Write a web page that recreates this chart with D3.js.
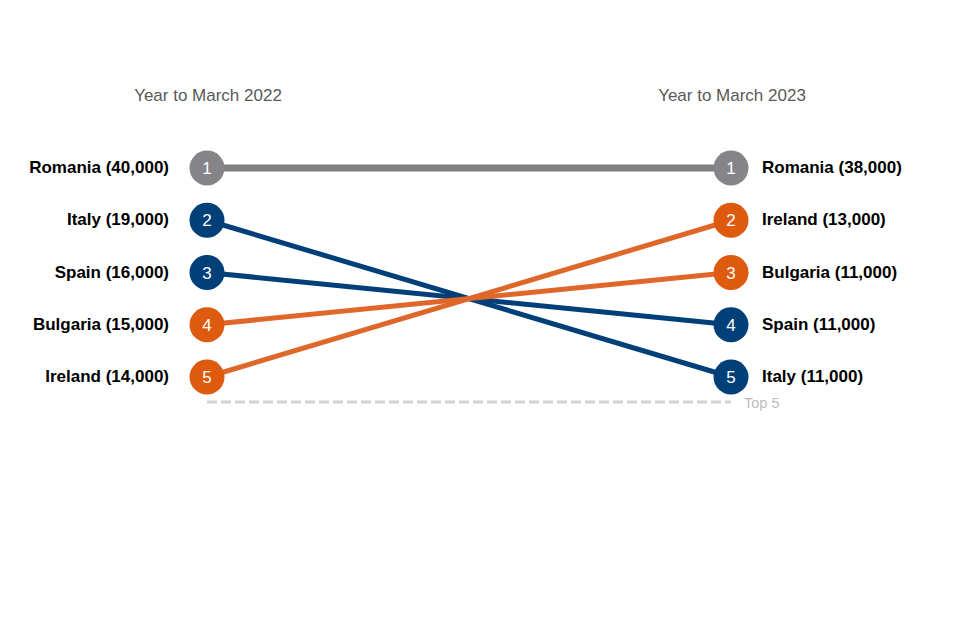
<!DOCTYPE html>
<html lang="en">
<head>
<meta charset="UTF-8">
<title>Top 5 nationalities</title>
<script src="https://d3js.org/d3.v7.min.js"></script>
<style>
    body { margin: 0; background: #fff; }
    svg { font-family: "Liberation Sans", Arial, sans-serif; }
    .header { font-size: 17px; fill: #595959; }
    .label { font-size: 17px; font-weight: bold; fill: #000; }
    .rank { font-size: 17px; fill: #fff; }
</style>
</head>
<body>
<svg width="960" height="640"></svg>
<script>
    const periods = ["Year to March 2022", "Year to March 2023"];
    const countries = ["Romania", "Italy", "Spain", "Bulgaria", "Ireland"];
    const rank2022 = [1, 2, 3, 4, 5];
    const rank2023 = [1, 5, 4, 3, 2];
    const value2022 = [40000, 19000, 16000, 15000, 14000];
    const value2023 = [38000, 11000, 11000, 11000, 13000];
    const groups = ["grey", "blue", "blue", "orange", "orange"];

    const lineColour = { grey: "#7f7f82", blue: "#003f78", orange: "#e0672a" };
    const dotColour = { grey: "#858589", blue: "#003f78", orange: "#de5a0e" };

    const svg = d3.select("svg");
    const x = d3.scalePoint().domain(periods).range([207, 731]);
    const y = d3.scaleLinear().domain([1, 5]).range([168, 377]);
    const fmt = d3.format(",");

    const rows = countries.map((c, i) => ({
        name: c, g: groups[i],
        r: [rank2022[i], rank2023[i]],
        v: [value2022[i], value2023[i]]
    }));

    svg.selectAll(".header")
        .data(periods)
        .enter().append("text")
        .attr("class", "header")
        .attr("x", d => x(d) + 1)
        .attr("y", 101)
        .attr("text-anchor", "middle")
        .text(d => d);

    // top 5 guide
    svg.append("line")
        .attr("x1", x(periods[0])).attr("x2", x(periods[1]))
        .attr("y1", 402).attr("y2", 402)
        .attr("stroke", "#d3d3d3").attr("stroke-width", 3)
        .attr("stroke-dasharray", "10,4");
    svg.append("text")
        .attr("x", 744).attr("y", 408)
        .attr("font-size", 14.5).attr("fill", "#bdbdbd")
        .text("Top 5");

    svg.append("g").selectAll("line")
        .data(rows)
        .enter().append("line")
        .attr("x1", x(periods[0])).attr("x2", x(periods[1]))
        .attr("y1", d => y(d.r[0])).attr("y2", d => y(d.r[1]))
        .attr("stroke", d => lineColour[d.g])
        .attr("stroke-width", d => d.g === "grey" ? 7 : 5);

    periods.forEach((p, k) => {
        const g = svg.append("g");
        const node = g.selectAll("g")
            .data(rows)
            .enter().append("g")
            .attr("transform", d => `translate(${x(p)},${y(d.r[k])})`);
        node.append("circle")
            .attr("r", 17.5)
            .attr("fill", d => dotColour[d.g]);
        node.append("text")
            .attr("class", "rank")
            .attr("text-anchor", "middle")
            .attr("dy", "0.36em")
            .text(d => d.r[k]);
        node.append("text")
            .attr("class", "label")
            .attr("x", k === 0 ? -38 : 31)
            .attr("dy", "0.3em")
            .attr("text-anchor", k === 0 ? "end" : "start")
            .text(d => `${d.name} (${fmt(d.v[k])})`);
    });
</script>
</body>
</html>
